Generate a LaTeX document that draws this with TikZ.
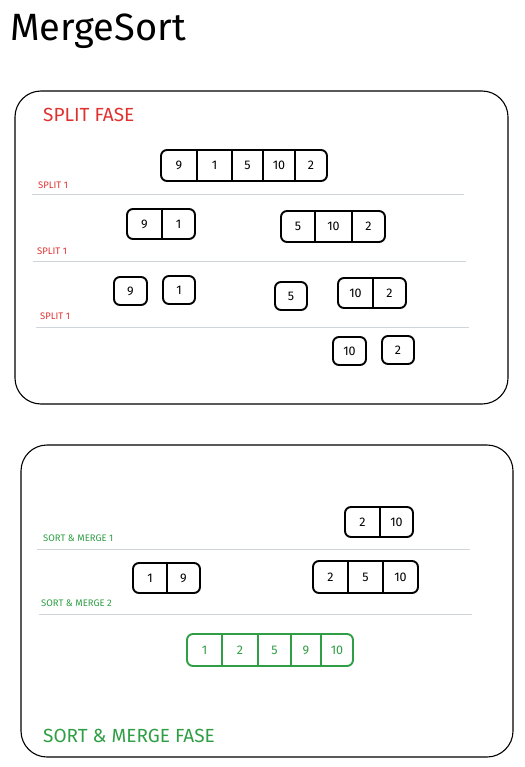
\documentclass[tikz,border=0pt]{standalone}
\usepackage{fontspec}
\setmainfont{Fira Sans}
\usepackage{xcolor}
\usepackage{tikz}
\definecolor{splitred}{HTML}{E03131}
\definecolor{mergegreen}{HTML}{2F9E44}
\definecolor{rulegray}{HTML}{D0D5DB}

\begin{document}
\begin{tikzpicture}[x=1pt, y=-1pt,
    fase/.style={draw, line width=1.1pt, rounded corners=26pt},
    arr/.style={draw, line width=1.9pt, rounded corners=6pt},
    sep/.style={line width=1.5pt},
    num/.style={inner sep=0pt, font=\fontsize{12.5}{12.5}\selectfont},
    rowline/.style={rulegray, line width=1pt},
    tag/.style={inner sep=0pt, anchor=west, font=\fontsize{9.5}{10}\selectfont}]
            \useasboundingbox (0,0) rectangle (524,767);
            \node[anchor=west, inner sep=0pt, font=\fontsize{38}{38}\selectfont] (title) at (10,31) {MergeSort};

            % split fase
            \draw[fase] (15,91) rectangle (508,404);
            \node[anchor=west, inner sep=0pt, splitred, font=\fontsize{19}{19}\selectfont] (splittitle) at (43,115) {SPLIT FASE};

            \draw[arr] (161,150) rectangle (327,181);
            \foreach \x in {197,232,263,295}{
                \draw[sep] (\x,150) -- (\x,181);
            }
            \foreach \x/\v [count=\i] in {179/9, 214.5/1, 247.5/5, 279/10, 311/2}{
                \node[num] (sa\i) at (\x,165.5) {\v};
            }
            \node[tag, splitred] (split1) at (38,185) {SPLIT 1};
            \draw[rowline] (32,195) -- (464,195);

            \draw[arr] (127,209) rectangle (195,239);
            \draw[sep] (162,209) -- (162,239);
            \node[num] (sb1) at (144.5,224) {9};
            \node[num] (sb2) at (178.5,224) {1};
            \draw[arr] (281,211) rectangle (385,242);
            \foreach \x in {315,352}{
                \draw[sep] (\x,211) -- (\x,242);
            }
            \foreach \x/\v [count=\i] in {298/5, 333.5/10, 368.5/2}{
                \node[num] (sc\i) at (\x,226.5) {\v};
            }
            \node[tag, splitred] (split2) at (37,251) {SPLIT 1};
            \draw[rowline] (33,261) -- (466,261);

            \draw[arr] (114,277) rectangle (147,305);
            \node[num] (sd1) at (130.5,291) {9};
            \draw[arr] (163,276) rectangle (195,304);
            \node[num] (sd2) at (179,290) {1};
            \draw[arr] (275,282) rectangle (307,310);
            \node[num] (sd3) at (291,296) {5};
            \draw[arr] (338,278) rectangle (406,308);
            \draw[sep] (373,278) -- (373,308);
            \node[num] (sd4) at (355.5,293) {10};
            \node[num] (sd5) at (389.5,293) {2};
            \node[tag, splitred] (split3) at (40,316) {SPLIT 1};
            \draw[rowline] (36,327) -- (469,327);

            \draw[arr] (333,337) rectangle (366,365);
            \node[num] (se1) at (349.5,351) {10};
            \draw[arr] (382,336) rectangle (414,364);
            \node[num] (se2) at (398,350) {2};

            % sort & merge fase
            \draw[fase] (21,445) rectangle (513,757);

            \draw[arr] (345,507) rectangle (413,537);
            \draw[sep] (380,507) -- (380,537);
            \node[num] (ma1) at (362.5,522) {2};
            \node[num] (ma2) at (396.5,522) {10};
            \node[tag, mergegreen] (merge1) at (43,538) {SORT \& MERGE 1};
            \draw[rowline] (37,549) -- (470,549);

            \draw[arr] (133,563) rectangle (200,593);
            \draw[sep] (167,563) -- (167,593);
            \node[num] (mb1) at (150,578) {1};
            \node[num] (mb2) at (183.5,578) {9};
            \draw[arr] (313,561) rectangle (418,593);
            \foreach \x in {348,383}{
                \draw[sep] (\x,561) -- (\x,593);
            }
            \foreach \x/\v [count=\i] in {330.5/2, 365.5/5, 400.5/10}{
                \node[num] (mc\i) at (\x,577) {\v};
            }
            \node[tag, mergegreen] (merge2) at (41,603) {SORT \& MERGE 2};
            \draw[rowline] (39,614) -- (472,614);

            \draw[arr, mergegreen] (187,634) rectangle (353,666);
            \foreach \x in {222,258,291,321}{
                \draw[sep, mergegreen] (\x,634) -- (\x,666);
            }
            \foreach \x/\v [count=\i] in {204.5/1, 240/2, 274.5/5, 306/9, 337/10}{
                \node[num, mergegreen] (md\i) at (\x,650) {\v};
            }

            \node[anchor=west, inner sep=0pt, mergegreen, font=\fontsize{19}{19}\selectfont] (mergetitle) at (43,736) {SORT \& MERGE FASE};
        \end{tikzpicture}
\end{document}
